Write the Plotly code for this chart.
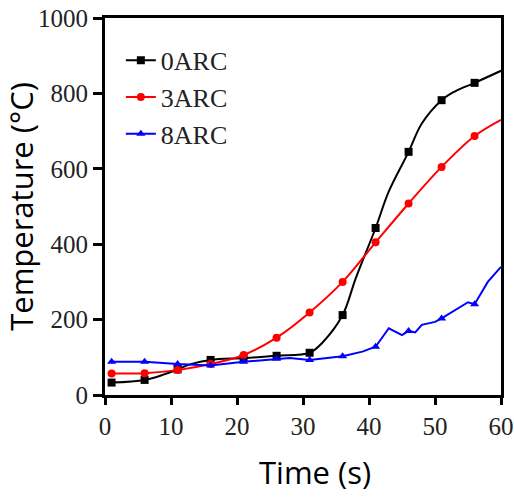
import plotly.graph_objects as go

marker_times = [1, 6, 11, 16, 21, 26, 31, 36, 41, 46, 51, 56]

t_0arc = [1, 6, 9, 11, 13, 16, 21, 26, 31, 33, 36, 38, 41, 43, 46, 48, 51, 53, 56, 60]
v_0arc = [33, 40, 55, 68, 82, 93, 98, 104, 112, 140, 212, 310, 443, 540, 645, 720, 782, 805, 828, 860]

t_3arc = [1, 6, 11, 16, 21, 26, 31, 36, 41, 46, 51, 56, 60]
v_3arc = [57, 58, 66, 82, 106, 152, 219, 300, 405, 508, 605, 687, 730]

t_8arc = [1, 6, 11, 16, 21, 26, 28, 31, 36, 39, 41, 43, 45, 46, 47, 48, 50, 51, 53, 55, 56, 58, 60]
v_8arc = [88, 88, 82, 78, 88, 96, 98, 93, 103, 115, 128, 177, 159, 170, 166, 186, 194, 203, 225, 246, 241, 300, 340]

series = [
    ("0ARC", t_0arc, v_0arc, "black", "square", "spline"),
    ("3ARC", t_3arc, v_3arc, "#ff0000", "circle", "spline"),
    ("8ARC", t_8arc, v_8arc, "#0000ff", "triangle-up", "linear"),
]

fig = go.Figure()
for name, t, v, col, sym, shape in series:
    fig.add_trace(go.Scatter(x=t, y=v, mode="lines", line=dict(color=col, width=2, shape=shape),
                             showlegend=False, hoverinfo="skip"))
    mt = [x for x in t if x in marker_times]
    mv = [y for x, y in zip(t, v) if x in marker_times]
    fig.add_trace(go.Scatter(x=mt, y=mv, mode="markers",
                             marker=dict(color=col, symbol=sym, size=8), showlegend=False))
    fig.add_trace(go.Scatter(x=[None], y=[None], mode="lines+markers", name=name,
                             line=dict(color=col, width=2),
                             marker=dict(color=col, symbol=sym, size=8),
                             legendgroup=name))

tickfont = dict(family="Liberation Serif", size=25, color="#222")
titlefont = dict(family="Open Sans", size=31, color="black")

fig.update_layout(
    width=514, height=497,
    margin=dict(l=105, r=13, t=18, b=102),
    plot_bgcolor="white", paper_bgcolor="white",
    showlegend=True,
    legend=dict(x=0.04, y=0.95, xanchor="left", yanchor="top",
                font=dict(family="Liberation Serif", size=26, color="#222"),
                bgcolor="rgba(0,0,0,0)", tracegroupgap=0),
    xaxis=dict(range=[0, 60], tickvals=[0, 10, 20, 30, 40, 50, 60], automargin=False,
               showline=True, linecolor="black", linewidth=3, mirror=True,
               ticks="outside", ticklen=7, tickwidth=3, tickcolor="black",
               showgrid=False, zeroline=False, tickfont=tickfont),
    yaxis=dict(range=[0, 1000], tickvals=[0, 200, 400, 600, 800, 1000], automargin=False,
               showline=True, linecolor="black", linewidth=3, mirror=True,
               ticks="outside", ticklen=9, tickwidth=3, tickcolor="black",
               showgrid=False, zeroline=False, tickfont=tickfont,
               title=dict(text="Temperature (°C)", font=titlefont, standoff=3)),
    annotations=[dict(text="Time (s)", xref="paper", yref="paper", x=0.53, y=-0.204,
                      xanchor="center", yanchor="middle", showarrow=False, font=titlefont)],
)

fig.write_html("out.html", config={"displayModeBar": False},
               post_script="document.body.style.margin='0';document.body.style.overflow='hidden';")
